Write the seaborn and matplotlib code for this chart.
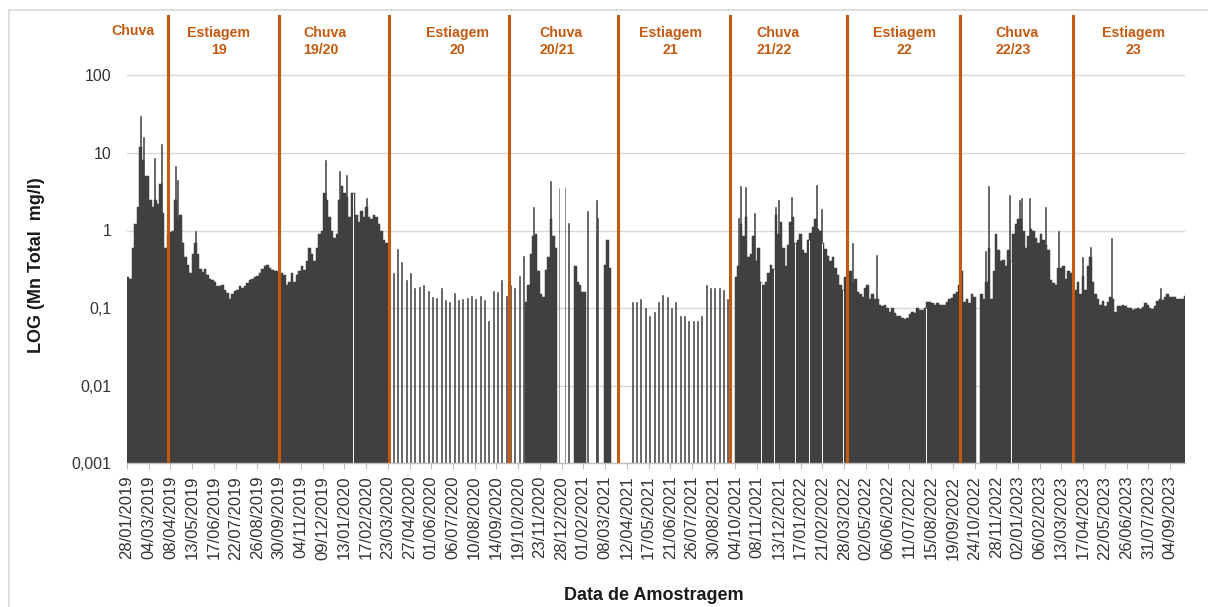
import numpy as np
import pandas as pd
import matplotlib
matplotlib.use("Agg")
import matplotlib.pyplot as plt
import matplotlib.transforms as mtransforms
from matplotlib.patches import Rectangle
import seaborn as sns

# ---------------------------------------------------------------- data
AXIS_START = "2019-01-28"
AXIS_END = "2023-09-28"

# dense (near daily) monitoring stretches, read as 4-day values (mg/l)
seg_2019_start = "2019-01-28"
seg_2019_vals = [0.25, 0.24, 0.6, 1.2, 2.0, 12, 8, 5, 5, 2.5,
                 2.0, 2.5, 2.2, 4, 1.7, 0.6, 0.9, 0.95, 1.0, 2.5,
                 1.5, 1.6, 0.7, 0.46, 0.36, 0.28, 0.5, 0.7, 0.5, 0.32,
                 0.29, 0.32, 0.27, 0.24, 0.23, 0.22, 0.19, 0.19, 0.2, 0.17,
                 0.155, 0.13, 0.15, 0.165, 0.17, 0.19, 0.18, 0.19, 0.21, 0.23,
                 0.24, 0.25, 0.26, 0.28, 0.32, 0.35, 0.36, 0.33, 0.31, 0.3,
                 0.3, 0.28, 0.28, 0.27, 0.2, 0.22, 0.28, 0.22, 0.27, 0.3,
                 0.35, 0.31, 0.4, 0.6, 0.5, 0.4, 0.6, 0.9, 1.0, 3.0,
                 2.5, 1.5, 1.0, 0.8, 0.9, 2.5, 3.7, 3.0, 2.7, 1.5,
                 3.0, 3.0, 1.6, 1.3, 1.8, 1.5, 2.0, 1.5, 1.4, 1.6,
                 1.5, 1.2, 1.0, 0.75, 0.7]

seg_2020a_start = "2020-10-30"
seg_2020a_vals = [0.12, 0.2, 0.5, 0.85, 0.9, 0.3, 0.15, 0.14, 0.31, 0.46, 1.4, 0.84, 0.6]

seg_2021a_start = "2021-01-17"
seg_2021a_vals = [0.35, 0.22, 0.2, 0.16, 0.16]

seg_2021b_start = "2021-03-06"
seg_2021b_vals = [0.36, 0.75, 0.33]

seg_2122_start = "2021-10-03"
seg_2122_vals = [0.25, 0.35, 1.2, 0.84, 1.5, 0.45, 0.5, 0.84, 0.4, 0.6,
                 0.22, 0.2, 0.22, 0.28, 0.36, 0.32, 1.6, 0.9, 1.3, 0.6,
                 0.35, 0.65, 1.3, 1.5, 0.7, 0.75, 0.9, 0.56, 0.52, 0.76,
                 0.92, 1.1, 1.4, 1.05, 1.0, 0.7, 0.58, 0.47, 0.4, 0.45,
                 0.33, 0.27, 0.2, 0.17, 0.25, 0.22, 0.3, 0.22, 0.24, 0.16,
                 0.15, 0.14, 0.18, 0.2, 0.13, 0.15, 0.13, 0.13, 0.11, 0.105,
                 0.11, 0.1, 0.09, 0.1, 0.087, 0.08, 0.08, 0.075, 0.072, 0.075,
                 0.083, 0.09, 0.087, 0.1, 0.095, 0.095, 0.1, 0.12, 0.12, 0.115,
                 0.11, 0.115, 0.11, 0.11, 0.11, 0.12, 0.13, 0.135, 0.15, 0.16,
                 0.2, 0.3, 0.12, 0.13, 0.115, 0.15, 0.14]

seg_2223_start = "2022-11-02"
seg_2223_vals = [0.15, 0.13, 0.22, 0.6, 0.13, 0.3, 0.9, 0.56, 0.4, 0.42,
                 0.35, 0.56, 0.4, 0.9, 1.2, 1.4, 1.4, 1.0, 0.6, 0.84,
                 1.05, 1.0, 0.8, 0.7, 0.9, 0.75, 0.65, 0.56, 0.23, 0.21,
                 0.2, 0.33, 0.33, 0.35, 0.24, 0.3, 0.28, 0.17, 0.17, 0.22,
                 0.15, 0.26, 0.17, 0.35, 0.45, 0.22, 0.15, 0.13, 0.11, 0.125,
                 0.105, 0.12, 0.14, 0.13, 0.09, 0.105, 0.105, 0.11, 0.105, 0.1,
                 0.1, 0.095, 0.097, 0.1, 0.097, 0.102, 0.115, 0.11, 0.1, 0.097,
                 0.105, 0.122, 0.13, 0.127, 0.14, 0.15, 0.14, 0.14, 0.14, 0.13,
                 0.13, 0.13, 0.145]

# weekly samples
weekly_2020_start = "2020-03-31"
weekly_2020_vals = [0.28, 0.58, 0.39, 0.23, 0.28, 0.18, 0.185, 0.2, 0.165, 0.14,
                    0.133, 0.18, 0.127, 0.12, 0.155, 0.127, 0.13, 0.133, 0.145, 0.13,
                    0.145, 0.127, 0.069, 0.165, 0.16, 0.23, 0.145, 0.2, 0.18, 0.26,
                    0.47]
weekly_2021_start = "2021-04-20"
weekly_2021_vals = [0.119, 0.119, 0.13, 0.1, 0.08, 0.09, 0.119, 0.148, 0.14, 0.1,
                    0.119, 0.08, 0.08, 0.069, 0.069, 0.069, 0.08, 0.2, 0.18, 0.18,
                    0.18, 0.17, 0.13]

# isolated single-day samples (rainy season 20/21)
single_dates = ["2020-12-23", "2021-01-02", "2021-01-08", "2021-02-07",
                "2021-02-21", "2021-02-22", "2021-02-23"]
single_vals = [3.5, 3.6, 1.25, 1.8, 0.9, 2.5, 1.45]

# daily peaks standing above the 4-day values
peak_dates = ["2019-02-18", "2019-02-23", "2019-03-13", "2019-03-23", "2019-04-16",
              "2019-04-18", "2019-05-18", "2019-12-13", "2020-01-05", "2020-01-15",
              "2020-02-17", "2020-11-12", "2020-12-09", "2021-10-08", "2021-10-11",
              "2021-10-19", "2021-11-03", "2021-12-06", "2021-12-12", "2022-01-02",
              "2022-02-11", "2022-02-19", "2022-04-10", "2022-05-19", "2022-11-10",
              "2022-11-14", "2022-12-19", "2023-01-03", "2023-01-07", "2023-01-19",
              "2023-02-15", "2023-03-08", "2023-04-15", "2023-04-28", "2023-06-01",
              "2023-08-19"]
peak_vals = [30, 16, 8.6, 13, 6.7, 4.5, 1.0, 8.1, 5.8, 5.2,
             2.6, 2.0, 4.3, 1.44, 3.7, 3.6, 1.7, 2.0, 2.5, 2.7,
             3.9, 1.9, 0.69, 0.49, 0.55, 3.7, 2.9, 2.5, 2.6, 2.6,
             2.0, 1.0, 0.46, 0.62, 0.8, 0.18]

# days without a sample inside the dense stretches
missing_dates = ["2020-01-27", "2021-11-13", "2021-12-05", "2022-01-08", "2022-01-30",
                 "2022-02-20", "2022-03-26", "2022-08-06", "2022-12-21"]

# season boundaries and names
season_bounds = ["2019-04-04", "2019-09-30", "2020-03-25", "2020-10-05", "2021-03-29",
                 "2021-09-25", "2022-04-02", "2022-10-01", "2023-04-01"]
season_names = ["Chuva", "Estiagem\n19", "Chuva\n19/20", "Estiagem\n20", "Chuva\n20/21",
                "Estiagem\n21", "Chuva\n21/22", "Estiagem\n22", "Chuva\n22/23", "Estiagem\n23"]

y_ticks = [0.001, 0.01, 0.1, 1, 10, 100]
y_ticklabels = ["0,001", "0,01", "0,1", "1", "10", "100"]

# ---------------------------------------------------------------- helpers
origin = pd.Timestamp(AXIS_START)


def day(s):
    if isinstance(s, str):
        return float((pd.Timestamp(s) - origin).days)
    t = pd.to_datetime(pd.Series(list(s)))
    return ((t - origin).dt.days).to_numpy(dtype=float)


BAR = "#404040"
ORANGE = "#C55A11"
W, H = 1208, 607

sns.set_theme(style="white")
plt.rcParams["font.family"] = ["Liberation Sans", "DejaVu Sans"]

fig = plt.figure(figsize=(W / 100, H / 100), dpi=100)
ax = fig.add_axes([127 / W, 1 - 463.3 / H, (1185 - 127) / W, (463.3 - 15) / H])
ax.set_yscale("log")


def draw_bars(xs, vals, edges, lw):
    df = pd.DataFrame({"d": np.asarray(xs, dtype=float),
                       "v": np.asarray(vals, dtype=float)})
    sns.histplot(data=df, x="d", weights="v", bins=list(edges), ax=ax, color=BAR,
                 alpha=1, edgecolor=BAR, linewidth=lw, legend=False)


dense = [(seg_2019_start, seg_2019_vals), (seg_2020a_start, seg_2020a_vals),
         (seg_2021a_start, seg_2021a_vals), (seg_2021b_start, seg_2021b_vals),
         (seg_2122_start, seg_2122_vals), (seg_2223_start, seg_2223_vals)]
STEP = 4
for start, vals in dense:
    d0 = day(start)
    n = len(vals)
    centers = d0 + STEP * np.arange(n) + STEP / 2
    edges = d0 + STEP * np.arange(n + 1)
    draw_bars(centers, vals, edges, 0.35)


def thin_bars(xs, vals, width=1.6):
    xs = np.asarray(xs, dtype=float)
    order = np.argsort(xs)
    xs = xs[order]
    vals = np.asarray(vals, dtype=float)[order]
    edges = np.unique(np.r_[xs, xs + width])
    draw_bars(xs + width / 2, vals, edges, 0.4)


thin_bars(day(weekly_2020_start) + 7 * np.arange(len(weekly_2020_vals)), weekly_2020_vals)
thin_bars(day(weekly_2021_start) + 7 * np.arange(len(weekly_2021_vals)), weekly_2021_vals)
thin_bars(day(single_dates), single_vals, width=1.0)
thin_bars(day(peak_dates), peak_vals)

# white gaps for missing days inside dense stretches
for md in missing_dates:
    dm = day(md)
    for start, vals in dense:
        d0 = day(start)
        k = int((dm - d0) // STEP)
        if 0 <= k < len(vals):
            ax.vlines(dm + 0.5, 0.001, vals[k], color="white", lw=0.7, zorder=3)

# season boundaries
for b in season_bounds:
    ax.axvline(day(b), color=ORANGE, lw=2.2, zorder=4)

# axes
ax.set_xlim(0, day(AXIS_END))
ax.set_ylim(0.001, 10 ** (2 + 60.3 / 77.6))
ax.set_yticks(y_ticks)
ax.set_yticklabels(y_ticklabels)
ax.yaxis.set_minor_locator(matplotlib.ticker.NullLocator())
ax.tick_params(axis="y", length=0, pad=11, labelsize=11.5, labelcolor="#333333")

tick_dates = pd.date_range(AXIS_START, "2023-09-04", freq="35D")
ax.set_xticks(day(tick_dates))
ax.set_xticklabels([t.strftime("%d/%m/%Y") for t in tick_dates], rotation=90)
ax.tick_params(axis="x", length=4, width=0.8, color="#bfbfbf", pad=5,
               labelsize=12, labelcolor="#333333", bottom=True, direction="out")
ax.set_xlabel("")
ax.set_ylabel("")
ax.grid(False)
ax.yaxis.grid(True, color="#d9d9d9", lw=1.0)
ax.set_axisbelow(True)
for s in ["left", "top", "right"]:
    ax.spines[s].set_visible(False)
ax.spines["bottom"].set_color("#bfbfbf")
ax.spines["bottom"].set_linewidth(1.0)
ax.patch.set_alpha(0)

# season labels
trans = mtransforms.blended_transform_factory(ax.transData, fig.transFigure)
label_x_px = [133, 218.7, 303.3, 457.2, 539.3, 670.5, 756, 904.7, 995.3, 1133.3]
label_ha = ["center", "center", "left", "center", "left",
            "center", "left", "center", "left", "center"]
for name, xp, ha in zip(season_names, label_x_px, label_ha):
    yp = 31 if "\n" not in name else 41.5
    ax.text((xp - 127) / 0.6208, 1 - yp / H, name, transform=trans, ha=ha, va="center",
            multialignment=ha, fontsize=10.2, fontweight="bold", color=ORANGE,
            linespacing=1.25, clip_on=False)

fig.text(37 / W, 1 - 265 / H, "LOG (Mn Total  mg/l)", rotation=90, ha="center",
         va="center", fontsize=13, fontweight="bold", color="#1a1a1a")
fig.text(654 / W, 1 - 596 / H, "Data de Amostragem", ha="center", va="center",
         fontsize=13, fontweight="bold", color="#1a1a1a")

fig.patches.append(Rectangle((9 / W, -0.05), 1.2, (H - 9.5) / H + 0.05,
                             transform=fig.transFigure, fill=False,
                             edgecolor="#d9d9d9", lw=1.2))

fig.savefig("out.png", dpi=100)
